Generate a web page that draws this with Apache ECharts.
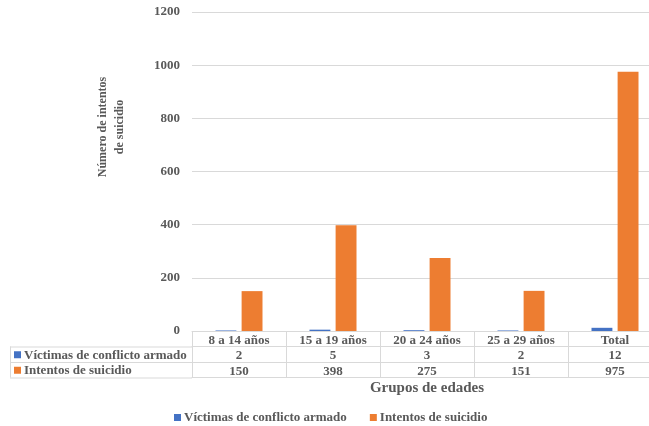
<!DOCTYPE html>
<html>
<head>
<meta charset="utf-8">
<script src="https://cdn.jsdelivr.net/npm/echarts@6/dist/echarts.min.js"></script>
<style>
  html, body { margin: 0; padding: 0; background: #fff; }
  #chart { width: 649px; height: 426px; }
</style>
</head>
<body>
<div id="chart"></div>
<script>
// Grupos de edades y valores de cada serie
const categories = ['8 a 14 años', '15 a 19 años', '20 a 24 años', '25 a 29 años', 'Total'];
const victimas = [2, 5, 3, 2, 12];
const intentos = [150, 398, 275, 151, 975];
const seriesNames = ['Víctimas de conflicto armado', 'Intentos de suicidio'];
const yTicks = { min: 0, max: 1200, interval: 200 };

const BLUE = '#4472C4';
const ORANGE = '#ED7D31';
const TEXT = '#595959';
const LINE = '#D9D9D9';
const FONT = 'Liberation Serif';

// El área de trazado continúa más allá del borde derecho del lienzo
const G = { left: 192, top: 12, width: 470, height: 319 };
const ROW = 15.5;          // altura de cada fila de la tabla
const tableTop = G.top + G.height;
const tableBottom = tableTop + ROW * 3;

const chart = echarts.init(document.getElementById('chart'), null, { renderer: 'canvas' });

// Ejes extra que forman las filas de valores de la tabla de datos
function rowAxis(idx, values) {
  return {
    type: 'category',
    data: categories,
    gridIndex: 0,
    position: 'bottom',
    offset: ROW * idx,
    axisLine: { show: true, lineStyle: { color: LINE, width: 1 } },
    axisTick: { show: false },
    axisLabel: {
      interval: 0,
      margin: 3,
      fontFamily: FONT, fontWeight: 'bold', fontSize: 13, color: TEXT,
      formatter: (v, i) => String(values[i])
    }
  };
}

const option = {
  animation: false,
  backgroundColor: '#fff',
  grid: {
    left: G.left, top: G.top, width: G.width, height: G.height,
    containLabel: false, outerBoundsMode: 'none'
  },
  xAxis: [
    {
      type: 'category',
      data: categories,
      position: 'bottom',
      axisLine: { show: true, lineStyle: { color: LINE, width: 1 } },
      axisTick: { show: true, interval: 0, length: ROW * 3, lineStyle: { color: LINE, width: 1 } },
      axisLabel: {
        interval: 0, margin: 3,
        fontFamily: FONT, fontWeight: 'bold', fontSize: 13, color: TEXT
      },
      name: 'Grupos de edades',
      nameLocation: 'middle',
      nameGap: ROW * 3 + 3,
      nameTextStyle: { fontFamily: FONT, fontWeight: 'bold', fontSize: 15, color: TEXT }
    },
    rowAxis(1, victimas),
    rowAxis(2, intentos),
    {
      type: 'category',
      data: categories,
      position: 'bottom',
      offset: ROW * 3,
      axisLine: { show: true, lineStyle: { color: LINE, width: 1 } },
      axisTick: { show: false },
      axisLabel: { show: false }
    }
  ],
  yAxis: {
    type: 'value',
    min: yTicks.min, max: yTicks.max, interval: yTicks.interval,
    axisLine: { show: false },
    axisTick: { show: false },
    splitLine: { lineStyle: { color: LINE, width: 1 } },
    axisLabel: {
      margin: 12, fontFamily: FONT, fontWeight: 'bold', fontSize: 13, color: TEXT,
      formatter: (v) => String(v)
    }
  },
  legend: {
    top: 411,
    left: 174,
    padding: 0,
    itemWidth: 7, itemHeight: 7, itemGap: 23,
    icon: 'rect',
    textStyle: { fontFamily: FONT, fontWeight: 'bold', fontSize: 13, color: TEXT, padding: [0, 0, 0, -2] },
    data: seriesNames
  },
  series: [
    {
      name: seriesNames[0], type: 'bar', data: victimas,
      itemStyle: { color: BLUE },
      barGap: '25%', barCategoryGap: '50%'
    },
    {
      name: seriesNames[1], type: 'bar', data: intentos,
      itemStyle: { color: ORANGE },
      barGap: '25%', barCategoryGap: '50%'
    }
  ],
  graphic: [
    // Título del eje vertical
    {
      type: 'text', x: 111, y: 127, rotation: Math.PI / 2,
      style: {
        text: 'Número de intentos\nde suicidio',
        fontFamily: FONT, fontWeight: 'bold', fontSize: 12, fill: TEXT,
        align: 'center', verticalAlign: 'middle', lineHeight: 17
      }
    },
    // Columna de la leyenda en la tabla de datos
    { type: 'line', shape: { x1: 10, y1: tableTop + ROW + 0.5, x2: G.left, y2: tableTop + ROW + 0.5 }, style: { stroke: LINE, lineWidth: 1 } },
    { type: 'line', shape: { x1: 10, y1: tableTop + ROW * 2 + 0.5, x2: G.left, y2: tableTop + ROW * 2 + 0.5 }, style: { stroke: LINE, lineWidth: 1 } },
    { type: 'line', shape: { x1: 10, y1: tableBottom + 0.5, x2: G.left, y2: tableBottom + 0.5 }, style: { stroke: LINE, lineWidth: 1 } },
    { type: 'line', shape: { x1: 10.5, y1: tableTop + ROW, x2: 10.5, y2: tableBottom }, style: { stroke: LINE, lineWidth: 1 } },
    { type: 'rect', shape: { x: 14, y: tableTop + ROW * 1.5 - 3, width: 7, height: 7 }, style: { fill: BLUE } },
    { type: 'rect', shape: { x: 14, y: tableTop + ROW * 2.5 - 3, width: 7, height: 7 }, style: { fill: ORANGE } },
    {
      type: 'text', x: 24, y: tableTop + ROW * 1.5 + 1,
      style: { text: seriesNames[0], fontFamily: FONT, fontWeight: 'bold', fontSize: 13, fill: TEXT, verticalAlign: 'middle' }
    },
    {
      type: 'text', x: 24, y: tableTop + ROW * 2.5 + 1,
      style: { text: seriesNames[1], fontFamily: FONT, fontWeight: 'bold', fontSize: 13, fill: TEXT, verticalAlign: 'middle' }
    }
  ]
};

chart.setOption(option);
</script>
</body>
</html>
